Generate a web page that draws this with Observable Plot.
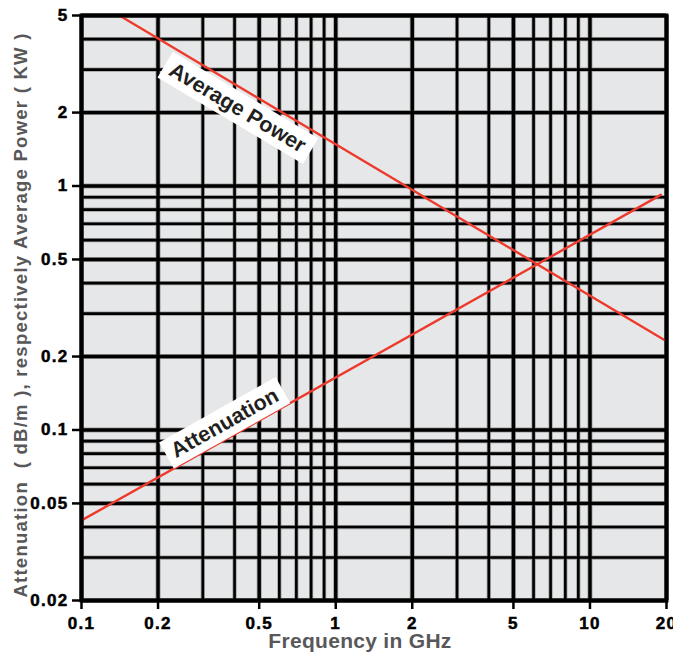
<!DOCTYPE html>
<html>
<head>
<meta charset="utf-8">
<script src="https://cdn.jsdelivr.net/npm/d3@7"></script>
<script src="https://cdn.jsdelivr.net/npm/@observablehq/plot@0.6"></script>
<style>
  body { margin: 0; background: #fff; }
  #chart svg { display: block; }
  #chart .tick-label text {
    font-family: "Liberation Sans", Arial, sans-serif;
    font-weight: bold;
    font-size: 17px;
    fill: #000;
    stroke: #000;
    stroke-width: 0.5px;
    letter-spacing: 1.3px;
  }
  #chart .axis-title text { white-space: pre; }
  #chart .y-title text { letter-spacing: 1.25px; }
  #chart .x-title text { letter-spacing: 0.3px; }
</style>
</head>
<body>
<div id="chart"></div>
<script>
// Labelled ticks on both log axes
const xTicks = [0.1, 0.2, 0.5, 1, 2, 5, 10, 20];
const yTicks = [0.02, 0.05, 0.1, 0.2, 0.5, 1, 2, 5];

// Grid lines: every 1..9 step of each decade
const xGrid = [0.1, 0.2, 0.3, 0.4, 0.5, 0.6, 0.7, 0.8, 0.9, 1, 2, 3, 4, 5, 6, 7, 8, 9, 10, 20];
const yGrid = [0.02, 0.03, 0.04, 0.05, 0.06, 0.07, 0.08, 0.09, 0.1, 0.2, 0.3, 0.4, 0.5, 0.6, 0.7, 0.8, 0.9, 1, 2, 3, 4, 5];

// Average power (kW) vs frequency (GHz) — straight line on log-log axes
const powerFreq = [0.141, 20];
const powerKW = [5, 0.231];

// Attenuation (dB/m) vs frequency (GHz)
const attenFreq = [0.1, 19];
const attenDB = [0.0426, 0.92];

// Line label text and the frequency at which each label sits
const powerLabel = "Average Power";
const attenLabel = "Attenuation";
const powerLabelFreq = 0.45;
const attenLabelFreq = 0.39;

const xTitle = "Frequency in GHz";
const yTitle = "Attenuation  ( dB/m ), respectively Average Power ( KW )";

// value on a log-log straight line through two points
function onLine(fx, fy, f) {
  const t = (Math.log(f) - Math.log(fx[0])) / (Math.log(fx[1]) - Math.log(fx[0]));
  return Math.exp(Math.log(fy[0]) + t * (Math.log(fy[1]) - Math.log(fy[0])));
}

const red = "#ee3a2c";
const font = "'Liberation Sans', Arial, Helvetica, sans-serif";

const chart = Plot.plot({
  width: 673,
  height: 653,
  marginLeft: 81,
  marginRight: 7,
  marginTop: 15,
  marginBottom: 53,
  style: { background: "#fff", fontFamily: font },
  x: { type: "log", domain: [0.1, 20] },
  y: { type: "log", domain: [0.02, 5] },
  marks: [
    Plot.frame({ fill: "#e6e7e8", stroke: null }),
    // soft grey halo under each grid line
    Plot.ruleX(xGrid, { stroke: "#9c9c9c", strokeWidth: d => xTicks.includes(d) ? 5 : 4.2 }),
    Plot.ruleY(yGrid, { stroke: "#9c9c9c", strokeWidth: d => yTicks.includes(d) ? 5 : 4.2 }),
    Plot.ruleX(xGrid, { stroke: "#000", strokeWidth: d => xTicks.includes(d) ? 3.4 : 2.6 }),
    Plot.ruleY(yGrid, { stroke: "#000", strokeWidth: d => yTicks.includes(d) ? 3.4 : 2.6 }),
    Plot.line(powerFreq.map((f, i) => ({ f, v: powerKW[i] })), { x: "f", y: "v", stroke: red, strokeWidth: 2.4 }),
    Plot.line(attenFreq.map((f, i) => ({ f, v: attenDB[i] })), { x: "f", y: "v", stroke: red, strokeWidth: 2.4 }),
    Plot.text([{ f: powerLabelFreq, v: onLine(powerFreq, powerKW, powerLabelFreq), t: powerLabel }], {
      x: "f", y: "v", text: "t", rotate: 30.7, dx: -10, dy: 16,
      fontSize: 21.5, fontWeight: "bold", fill: "#231f20", className: "line-label"
    }),
    Plot.text([{ f: attenLabelFreq, v: onLine(attenFreq, attenDB, attenLabelFreq), t: attenLabel }], {
      x: "f", y: "v", text: "t", rotate: -29.3, dx: -7, dy: -13,
      fontSize: 21.5, fontWeight: "bold", fill: "#231f20", className: "line-label"
    }),
    Plot.frame({ stroke: "#000", strokeWidth: 4 }),
    // tick marks only; the numbers are drawn as text marks below
    Plot.axisX(xTicks, { tickSize: 9, strokeWidth: 2.5, fill: "none", label: null }),
    Plot.axisY(yTicks, { tickSize: 9, strokeWidth: 2.5, fill: "none", label: null }),
    Plot.text(xTicks, {
      x: d => d, text: d => String(d), frameAnchor: "bottom", dy: 16, lineAnchor: "top",
      className: "tick-label"
    }),
    Plot.text(yTicks, {
      y: d => d, text: d => String(d), frameAnchor: "left", dx: -13, textAnchor: "end", lineAnchor: "middle",
      className: "tick-label"
    }),
    Plot.text([xTitle], {
      frameAnchor: "bottom", dy: 41, dx: -14, lineAnchor: "middle",
      fontSize: 21, fontWeight: "bold", fill: "#58585a", className: "axis-title x-title"
    }),
    Plot.text([yTitle], {
      frameAnchor: "left", textAnchor: "middle", lineAnchor: "middle", rotate: -90,
      dx: -60, dy: 7, fontSize: 18.5, fontWeight: "bold", fill: "#58585a",
      className: "axis-title y-title"
    })
  ]
});

document.getElementById("chart").append(chart);

// white boxes behind the rotated line labels
chart.querySelectorAll(".line-label text").forEach(t => {
  const bb = t.getBBox();
  const padX = 7, padY = 3;
  const r = document.createElementNS("http://www.w3.org/2000/svg", "rect");
  r.setAttribute("x", bb.x - padX);
  r.setAttribute("y", bb.y - padY);
  r.setAttribute("width", bb.width + 2 * padX);
  r.setAttribute("height", bb.height + 2 * padY);
  r.setAttribute("fill", "#fff");
  const tr = t.getAttribute("transform");
  if (tr) r.setAttribute("transform", tr);
  t.parentNode.insertBefore(r, t);
});
</script>
</body>
</html>
